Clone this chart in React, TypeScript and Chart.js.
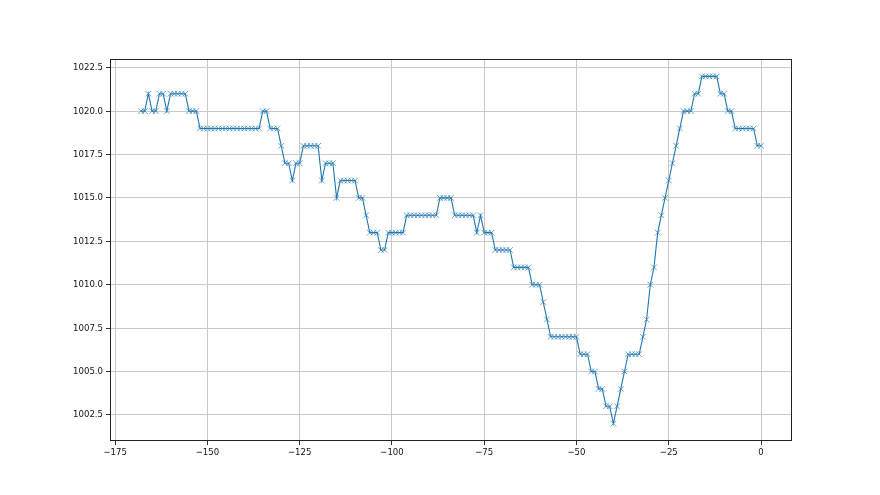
import React, { useEffect, useRef } from "react";
import { Chart, registerables } from "chart.js";

Chart.register(...registerables);

const hours: number[] = [
  -168, -167, -166, -165, -164, -163, -162, -161, -160, -159, -158, -157, -156, -155, -154, -153,
  -152, -151, -150, -149, -148, -147, -146, -145, -144, -143, -142, -141, -140, -139, -138, -137,
  -136, -135, -134, -133, -132, -131, -130, -129, -128, -127, -126, -125, -124, -123, -122, -121,
  -120, -119, -118, -117, -116, -115, -114, -113, -112, -111, -110, -109, -108, -107, -106, -105,
  -104, -103, -102, -101, -100, -99, -98, -97, -96, -95, -94, -93, -92, -91, -90, -89,
  -88, -87, -86, -85, -84, -83, -82, -81, -80, -79, -78, -77, -76, -75, -74, -73,
  -72, -71, -70, -69, -68, -67, -66, -65, -64, -63, -62, -61, -60, -59, -58, -57,
  -56, -55, -54, -53, -52, -51, -50, -49, -48, -47, -46, -45, -44, -43, -42, -41,
  -40, -39, -38, -37, -36, -35, -34, -33, -32, -31, -30, -29, -28, -27, -26, -25,
  -24, -23, -22, -21, -20, -19, -18, -17, -16, -15, -14, -13, -12, -11, -10, -9,
  -8, -7, -6, -5, -4, -3, -2, -1, 0,
];

const pressure: number[] = [
  1020, 1020, 1021, 1020, 1020, 1021, 1021, 1020, 1021, 1021, 1021, 1021, 1021, 1020, 1020, 1020,
  1019, 1019, 1019, 1019, 1019, 1019, 1019, 1019, 1019, 1019, 1019, 1019, 1019, 1019, 1019, 1019,
  1019, 1020, 1020, 1019, 1019, 1019, 1018, 1017, 1017, 1016, 1017, 1017, 1018, 1018, 1018, 1018,
  1018, 1016, 1017, 1017, 1017, 1015, 1016, 1016, 1016, 1016, 1016, 1015, 1015, 1014, 1013, 1013,
  1013, 1012, 1012, 1013, 1013, 1013, 1013, 1013, 1014, 1014, 1014, 1014, 1014, 1014, 1014, 1014,
  1014, 1015, 1015, 1015, 1015, 1014, 1014, 1014, 1014, 1014, 1014, 1013, 1014, 1013, 1013, 1013,
  1012, 1012, 1012, 1012, 1012, 1011, 1011, 1011, 1011, 1011, 1010, 1010, 1010, 1009, 1008, 1007,
  1007, 1007, 1007, 1007, 1007, 1007, 1007, 1006, 1006, 1006, 1005, 1005, 1004, 1004, 1003, 1003,
  1002, 1003, 1004, 1005, 1006, 1006, 1006, 1006, 1007, 1008, 1010, 1011, 1013, 1014, 1015, 1016,
  1017, 1018, 1019, 1020, 1020, 1020, 1021, 1021, 1022, 1022, 1022, 1022, 1022, 1021, 1021, 1020,
  1020, 1019, 1019, 1019, 1019, 1019, 1019, 1018, 1018,
];

const xTicks: number[] = [-175, -150, -125, -100, -75, -50, -25, 0];
const yTicks: number[] = [1002.5, 1005, 1007.5, 1010, 1012.5, 1015, 1017.5, 1020, 1022.5];

const TICK_FONT = {
  family: "'Liberation Sans Narrow', 'DejaVu Sans Condensed', 'DejaVu Sans', sans-serif",
  size: 9.5,
};

const framePlugin = {
  id: "frame",
  afterDraw(chart: any) {
    const { ctx, chartArea } = chart;
    const l = Math.round(chartArea.left) + 0.5;
    const t = Math.round(chartArea.top) + 0.5;
    const r = Math.round(chartArea.right) - 0.5;
    const b = Math.round(chartArea.bottom) - 0.5;
    ctx.save();
    ctx.strokeStyle = "#222";
    ctx.lineWidth = 1;
    ctx.strokeRect(l, t, r - l, b - t);
    ctx.restore();
  },
};

export default function App() {
  const ref = useRef<HTMLCanvasElement | null>(null);

  useEffect(() => {
    document.body.style.margin = "0";
    const canvas = ref.current;
    if (!canvas) return;
    const chart = new Chart(canvas, {
      type: "line",
      data: {
        datasets: [
          {
            data: hours.map((h, i) => ({ x: h, y: pressure[i] })),
            borderColor: "#1f77b4",
            backgroundColor: "#1f77b4",
            borderWidth: 1.1,
            pointStyle: "crossRot",
            pointRadius: 4,
            pointHoverRadius: 4,
            pointBorderColor: "rgba(31,119,180,0.85)",
            pointBorderWidth: 0.8,
            tension: 0,
            fill: false,
          },
        ],
      },
      options: {
        responsive: false,
        animation: false,
        events: [],
        layout: { padding: { left: 0, top: 59, right: 88, bottom: 0 } },
        plugins: { legend: { display: false }, tooltip: { enabled: false } },
        scales: {
          x: {
            type: "linear",
            min: -176.4,
            max: 8.4,
            afterBuildTicks: (scale: any) => {
              scale.ticks = xTicks.map((v) => ({ value: v }));
            },
            afterFit: (scale: any) => {
              scale.height = 54;
            },
            border: { display: false },
            grid: {
              color: "#c8c8c8",
              lineWidth: 1,
              tickColor: "#333",
              tickLength: 4,
              drawTicks: true,
            },
            ticks: {
              autoSkip: false,
              maxRotation: 0,
              padding: 2,
              color: "#111",
              font: TICK_FONT,
              callback: (v: any) => (Number(v) < 0 ? "\u2212" + Math.abs(Number(v)) : String(v)),
            },
          },
          y: {
            type: "linear",
            min: 1001,
            max: 1023,
            afterBuildTicks: (scale: any) => {
              scale.ticks = yTicks.map((v) => ({ value: v }));
            },
            afterFit: (scale: any) => {
              scale.width = 110;
            },
            border: { display: false },
            grid: {
              color: "#c8c8c8",
              lineWidth: 1,
              tickColor: "#333",
              tickLength: 4,
              drawTicks: true,
            },
            ticks: {
              autoSkip: false,
              padding: 3,
              color: "#111",
              font: TICK_FONT,
              callback: (v: any) => Number(v).toFixed(1),
            },
          },
        },
      },
      plugins: [framePlugin],
    } as any);
    return () => chart.destroy();
  }, []);

  return (
    <div style={{ position: "absolute", left: 0, top: 0, width: 880, height: 495, background: "#fff" }}>
      <canvas ref={ref} width={880} height={495} style={{ display: "block", width: 880, height: 495 }} />
    </div>
  );
}
